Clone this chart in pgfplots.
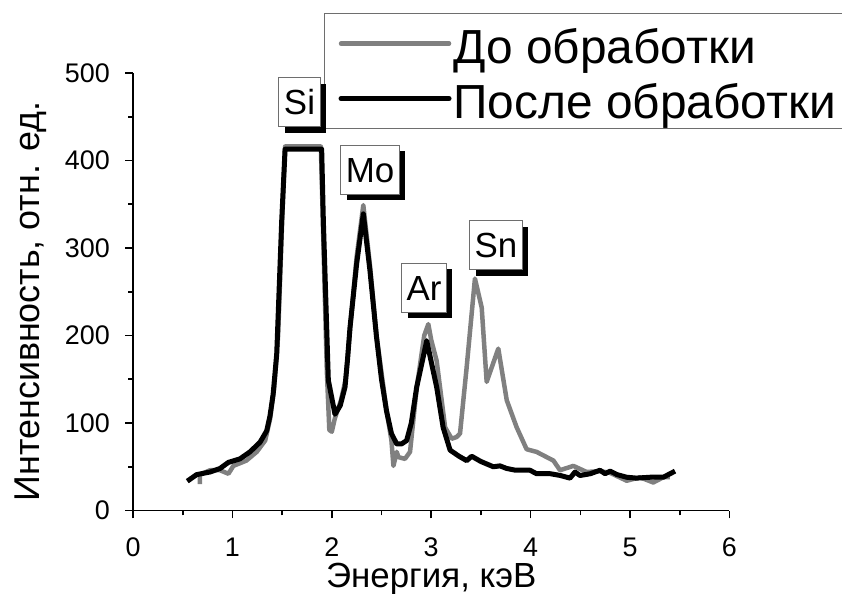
\documentclass[border=0pt]{standalone}
\usepackage{fontspec}
\setmainfont{Liberation Sans}
\usepackage{pgfplots}
\pgfplotsset{compat=1.18}
\usetikzlibrary{shadows}

\definecolor{rawgray}{RGB}{128,128,128}
\definecolor{framegray}{RGB}{110,110,110}

% EDX spectrum before treatment
\pgfplotstableread{
x y
0.674 30
0.674 41
0.775 46
0.875 46
0.96 42
1.01 51
1.14 57
1.245 67
1.33 80
1.38 105
1.42 140
1.46 200
1.50 330
1.53 416
1.89 416
1.91 330
1.95 160
1.975 92
2.0 90
2.03 105
2.09 125
2.14 150
2.19 215
2.25 290
2.317 349
2.384 280
2.45 200
2.55 115
2.6 80
2.62 51
2.653 67
2.67 61
2.736 59
2.787 67
2.854 140
2.93 200
2.971 213
3.0 195
3.055 171
3.14 95
3.206 82
3.256 84
3.29 88
3.357 164
3.44 265
3.508 232
3.558 147
3.675 185
3.76 126
3.86 95
3.96 70
4.06 67
4.23 57
4.296 46
4.43 51
4.564 44
4.7 45
4.8 43
4.967 34
5.1 38
5.234 32
5.335 38
5.40 38
}\before

% EDX spectrum after treatment
\pgfplotstableread{
x y
0.546 33.5
0.64 41
0.775 44
0.875 48
0.96 55
1.076 59
1.177 67
1.278 78
1.345 91
1.378 108
1.41 133
1.446 179
1.496 331
1.53 413
1.898 413
1.915 331
1.965 149
2.032 110
2.085 120
2.133 141
2.16 175
2.183 209
2.25 282
2.317 339
2.384 274
2.45 198
2.5 150
2.55 114
2.6 88
2.653 76
2.70 76
2.753 80
2.80 100
2.854 141
2.955 194
3.055 141
3.12 95
3.19 69
3.28 62
3.357 57
3.407 62
3.5 56
3.625 50
3.692 51
3.76 48
3.85 46
3.994 46
4.06 42
4.2 42
4.3 40
4.396 37
4.447 44
4.497 40
4.6 42
4.698 46
4.75 42
4.8 45
4.87 41
4.967 38
5.067 37
5.2 38
5.335 38
5.453 45
}\after

\tikzset{
  elbox/.style={
    draw=framegray, line width=1bp, fill=white,
    font=\fontsize{35}{42}\selectfont,
    inner xsep=5bp, inner ysep=12bp, text height=25bp, text depth=0bp,
    drop shadow={shadow xshift=6bp, shadow yshift=-6bp, opacity=1, fill=black}
  }
}

\begin{document}
\begin{tikzpicture}
\useasboundingbox (0bp,0bp) rectangle (842bp,594bp);
\begin{axis}[
  at={(133bp,83.5bp)}, anchor=south west,
  width=596.4bp, height=437.5bp, scale only axis,
  xmin=0, xmax=6, ymin=0, ymax=500,
  axis x line=bottom, axis y line=left,
  axis line style={line width=1.6bp, -},
  xtick={0,1,2,3,4,5,6}, ytick={0,100,200,300,400,500},
  minor tick num=1,
  tick align=outside,
  major tick length=8bp, minor tick length=5bp,
  tick style={black, line width=1.6bp},
  /pgf/number format/assume math mode=true,
  ticklabel style={font=\fontsize{27}{32}\selectfont},
  xticklabel style={font=\fontsize{27}{32}\selectfont, anchor=north, inner sep=0pt, yshift=-19bp},
  yticklabel style={font=\fontsize{27}{32}\selectfont, anchor=east, inner sep=0pt, xshift=-15bp},
  xlabel={Энергия, кэВ},
  ylabel={Интенсивность, отн. ед.},
  xlabel style={font=\fontsize{35}{42}\selectfont, at={(rel axis cs:0.5,-0.175)}, anchor=base},
  ylabel style={font=\fontsize{36}{43}\selectfont, at={(rel axis cs:-0.156,0.478)}, anchor=base},
  legend style={
    at={(rel axis cs:0.3203,1.137)}, anchor=north west,
    draw=framegray, line width=1bp, fill=white,
    font=\fontsize{48}{58}\selectfont,
    inner xsep=14bp, inner ysep=8bp,
    row sep=11bp,
    nodes={inner xsep=2bp, inner ysep=2bp, text height=40bp, text depth=0bp},
  },
  legend cell align=left,
  legend image code/.code={\draw[#1, line cap=round] (0bp,0bp) -- (108bp,0bp);},
  clip=false,
]
\addplot[rawgray, line width=4.5bp, line join=round] table[x=x, y=y] {\before};
\addlegendentry{До обработки}
\addplot[black, line width=5bp, line join=round] table[x=x, y=y] {\after};
\addlegendentry{После обработки}

\coordinate (si) at (axis cs:1.675,466.3);
\coordinate (mo) at (axis cs:2.384,389.7);
\coordinate (ar) at (axis cs:2.928,254.3);
\coordinate (sn) at (axis cs:3.652,302.9);
\end{axis}

\node[elbox] at (si) {Si};
\node[elbox] at (mo) {Mo};
\node[elbox] at (ar) {Ar};
\node[elbox] at (sn) {Sn};
\end{tikzpicture}
\end{document}
